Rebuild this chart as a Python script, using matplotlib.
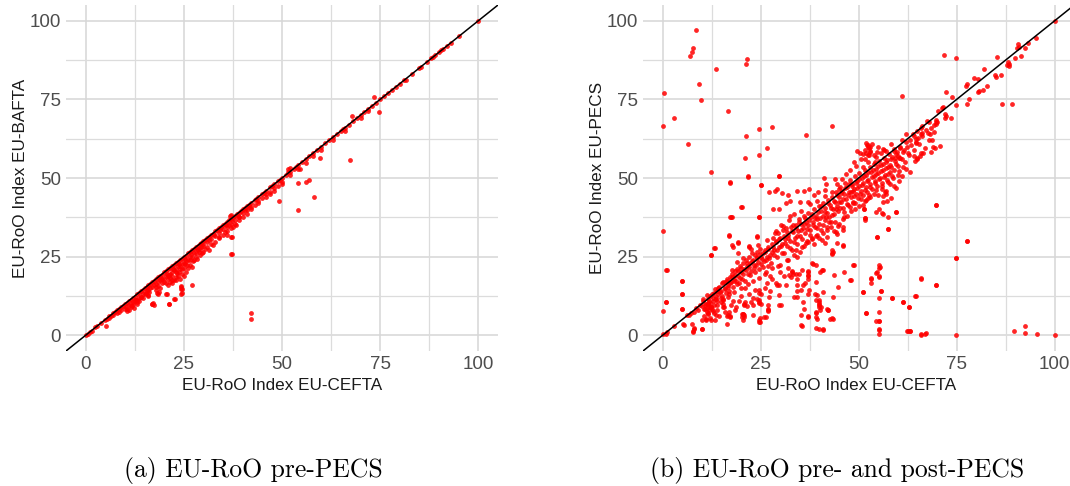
import matplotlib
matplotlib.use('Agg')
import matplotlib.pyplot as plt
import numpy as np

# EU-CEFTA index (x) vs EU-BAFTA index (y), pre-PECS
pre_pecs = [
    (0, 0), (0.5, 0.5), (1, 1), (1.5, 1.2), (2.5, 2.5), (3, 3), (4, 4), (5, 5), (5.5, 5.3),
    (6, 6), (6.5, 6.2), (7, 7), (7.5, 7.3), (8, 8), (8.5, 8.2), (9, 9), (9.5, 9.3), (10, 10),
    (10.5, 10.4), (11, 11), (11.5, 11.3), (12, 12), (12.5, 12.3), (13, 13), (13.5, 13.4),
    (14, 14), (14.5, 14.3), (15, 15), (15.5, 15.4), (16, 16), (16.5, 16.3), (17, 17),
    (17.5, 17.3), (18, 18), (18.5, 18.4), (19, 19), (19.5, 19.3), (20, 20), (20.5, 20.4),
    (21, 21), (21.5, 21.3), (22, 22), (22.5, 22.4), (23, 23), (23.5, 23.2), (24, 24),
    (24.5, 24.4), (25, 25), (25.5, 25.3), (26, 26), (26.5, 26.4), (27, 27), (27.5, 27.3),
    (28, 28), (28.5, 28.3), (29, 29), (29.5, 29.4), (30, 30), (30.5, 30.3), (31, 31),
    (31.5, 31.4), (32, 32), (32.5, 32.3), (33, 33), (33.5, 33.4), (34, 34), (34.5, 34.3),
    (35, 35), (35.5, 35.4), (36, 36), (36.5, 36.7), (37, 37), (37.5, 37.6), (38, 38),
    (38.5, 38.7), (39, 39), (39.5, 39.4), (40, 40), (40.5, 40.6), (41, 41), (41.5, 41.3),
    (42, 42), (43, 43), (43.5, 43.3), (44, 44), (45, 45), (45.5, 45.2), (46, 46), (47, 47),
    (47.5, 47.3), (48, 48), (49, 49), (49.5, 49.4), (50, 50), (51, 51), (51.5, 51.8), (52, 52),
    (53, 53), (53.5, 53.4), (54, 54), (55, 55), (56, 56), (57, 57), (58, 58), (59, 59), (60, 60),
    (61, 61), (62, 62), (63, 63), (64, 64), (65, 65), (65.5, 65.7), (66, 66), (67, 67), (68, 68),
    (69, 69), (70, 70), (71, 71), (72, 72), (73, 73), (74, 74), (75, 75), (76, 76), (77, 77),
    (78, 78), (79, 79), (80, 80), (81, 81), (81.5, 81.3), (83, 83), (85, 85), (85.5, 85.4),
    (87, 87), (88, 88), (88.5, 88.4), (89, 89), (90, 90), (90.5, 90.6), (91, 91), (92, 92),
    (93, 93), (95, 95), (100, 100),
    (67.8, 69.7), (51.5, 53), (52, 53.2), (37, 38.2), (36.8, 37.8),
    (10, 8.5), (11, 9.5), (11.5, 9), (12, 10.5), (12.5, 11), (13, 11.2), (13.5, 12), (14, 12.2),
    (14.5, 13), (15, 13.2), (15.5, 14), (16, 14.5), (16.5, 15), (17, 15.5), (17.5, 16),
    (18, 16.2), (18.5, 17), (19, 17.5), (19.5, 18), (20, 18), (20.5, 18.8), (21, 19),
    (21.5, 19.5), (22, 20), (22.5, 20.8), (23, 21), (23.5, 22), (24, 22), (24.5, 22.8),
    (25, 23), (25.5, 23.5), (26, 24), (26.5, 24.8), (27, 25), (27.5, 26), (28, 26.2), (28.5, 27),
    (29, 27.3), (29.5, 28), (30, 28.5), (31, 29.5), (32, 30.5), (33, 31.5), (34, 32.5),
    (35, 33.8), (36, 34.5), (37, 35.5), (38, 36.8), (39, 37.5), (40, 38.8), (41, 39.8),
    (42, 40.8), (44, 42.8), (46, 44.8), (47, 45.5), (48, 46.8), (50, 48.8), (52, 50.8),
    (54, 52.8), (56, 54.8), (58, 57), (60, 59), (63, 62), (66, 65), (70, 69), (72, 71.2),
    (10.2, 9), (10.6, 8.5), (11.9, 9.2), (12.3, 8.8), (11.5, 9.6), (12.7, 11.1), (14, 12.2),
    (15.3, 13.3), (16.1, 13.8), (15.7, 15.2), (17.8, 15.4), (18.4, 15.6), (18.2, 13.3),
    (18.7, 13.8), (17, 10.1), (17.4, 9.6), (20.4, 13.1), (21.2, 9.9), (22.7, 11.4),
    (24.4, 15.4), (24.6, 14.6), (24.6, 13.3), (27, 16.1), (22.1, 17.5), (21.2, 19.1),
    (22.9, 18.6), (23.7, 20.2), (24.6, 21.2), (25.4, 22.8), (26.7, 23.9), (27.1, 21.6),
    (28.4, 24.4), (28.8, 26.5), (31.4, 27.1), (33.9, 31.3), (36.5, 35), (37.1, 31.3),
    (37.1, 25.8), (39, 37.7), (40.7, 39.8), (41.6, 40.9), (42.2, 7.2), (42.2, 5.1),
    (20, 17), (20.5, 16.5), (21, 18), (21.5, 17), (22, 19), (22.5, 17.5), (23, 20), (23.5, 19),
    (24, 21), (24.5, 19.5), (25, 21.5), (25.5, 20), (21, 16), (22, 16.5), (23, 17.5), (24, 18),
    (25, 19), (26, 21.5), (26.5, 22.5), (27.5, 24), (28, 25), (29, 25.5), (30, 26.5),
    (30.5, 27.5), (31, 28), (32, 29), (33, 29.5), (34, 31), (35, 32), (36, 33), (36, 32),
    (37, 34), (37.5, 34.5), (38, 35.5), (39, 36.5), (40, 37.5), (41, 38.5), (42, 40),
    (43, 41.5), (44, 42), (45, 43.5), (46, 44), (47, 44.8), (48, 46), (49, 47.5), (50, 48),
    (12, 10), (13, 10.5), (13.5, 11), (14.5, 12), (11, 8), (10.5, 7.8), (8, 7), (9, 8),
    (8.5, 7.5), (7, 6.5), (6, 5.5), (16, 12.5), (19, 15), (19.5, 16.5), (18, 14.5),
    (5.3, 2.9), (17.1, 10.3), (37.2, 31.1), (49.3, 42.7), (54.2, 39.9), (58.1, 43.9),
    (57, 49.3), (56.2, 48.6), (54.2, 48.3), (54.7, 52.9), (59.8, 56.3), (67.3, 55.7),
    (74.6, 71.0), (73.4, 75.9), (24.4, 15.6), (24.4, 14.7), (24.4, 13), (22.6, 11.4),
    (21.3, 9.9), (20.7, 13), (18.4, 13), (16.8, 9.8), (37.2, 25.8),
    (19.3, 17.9), (20.8, 19.4), (22.3, 21.1), (23.8, 22.6), (25.3, 24.2), (26.8, 25.9),
    (28.3, 27.4), (29.8, 28.9), (31.3, 30.2), (32.8, 31.9), (34.3, 33.4), (35.8, 34.9),
    (37.3, 36.4), (38.8, 37.9), (21.4, 18.3), (23.2, 19.9), (25.8, 22.4), (27.3, 23.6),
    (29.6, 26.1), (32.4, 28.7), (35.6, 32.8), (38.3, 35.2), (13.2, 10.1), (15.8, 12.9),
]

# EU-CEFTA index (x) vs EU-PECS index (y), pre- and post-PECS
post_pecs = [
    (8.4, 96.9), (7.7, 91.2), (7.4, 90), (7.1, 88.7), (21.6, 87.8), (21.3, 86.3), (13.6, 84.7),
    (9.2, 79.9), (0.3, 76.9), (9.9, 74.9), (16.7, 71.3), (2.8, 69.1), (0, 66.6), (27.9, 66.3),
    (24.7, 65.6), (43.3, 66.5), (6.5, 60.7), (21.3, 63.2), (36.5, 63.7), (26.5, 59.5),
    (24.7, 57.4), (21.1, 56.4), (12.3, 51.9), (21.9, 50.4), (29.7, 50.6), (17.3, 48.5),
    (25.1, 47.7), (0.1, 33.3), (1, 20.9), (0.9, 10.7), (0, 7.7), (5, 17.3), (4.9, 13),
    (5, 8.5), (5.3, 3.7), (0, 0.3), (1, 1), (8.1, 2.1), (7.7, 1.1), (10.1, 2.1), (12.4, 4.9),
    (12.4, 25.5), (13.3, 27.9), (17, 31.7), (17.3, 37.6), (17.6, 37.7), (20.1, 40.7),
    (17.9, 28.1), (19.2, 29.4), (22.1, 28.1),
    (71.8, 89), (74.7, 88), (85.3, 88.4), (86.5, 73.5), (69.8, 41.3), (77.6, 30), (74.8, 24.6),
    (69.6, 15.9), (65.9, 18.2), (58.6, 11.7), (61.4, 10.5), (62.8, 9), (64.4, 12.4),
    (62.5, 1.2), (63.2, 1.2), (65.9, 0.4), (67.1, 0.6), (74.8, 0), (89.5, 1.3), (92.3, 2.9),
    (92.3, 0.7), (95.4, 0.4), (100, 0),
    (55.3, 22.3), (55.3, 21.3), (55.3, 18.6), (55.3, 11.7), (55.3, 7.4), (55.3, 4.5),
    (55.3, 1.6), (55.3, 0.5), (54.5, 19.8), (53.1, 18.3), (53.1, 16.7), (55.8, 14.2),
    (51.8, 7.1), (51.1, 13.6), (54.3, 4.5), (54.7, 31.1), (57.5, 33.9), (56, 38.9),
    (59.6, 39.2), (51.6, 37.3), (51.4, 40.2), (48, 17.7), (48.8, 22.2), (45.9, 33.4),
    (45.9, 28.3), (44.8, 15.4), (43.4, 12.2), (43.7, 19.3), (43.2, 27.1), (43.2, 26),
    (43.3, 5.4), (41.9, 8.2), (42.3, 7.9), (40.9, 2), (39.2, 2.4), (40, 11.1), (40, 10.1),
    (40, 9), (40.1, 7.9), (39.2, 7.1), (39.2, 5.8), (35.6, 2.9), (37.1, 6), (35.9, 10.7),
    (37.1, 13.2), (38.9, 13.2), (38.1, 23), (40.6, 20.9), (37.1, 20.5), (37.1, 19),
    (34.2, 15.9), (34.2, 12.2), (33, 20.5), (33.2, 19.6), (35.6, 20.9), (34.2, 24.9),
    (29.8, 15.9), (29.8, 12.7), (29.8, 9.5), (30.3, 9.6), (27, 9.5), (26.8, 8), (24.7, 10.7),
    (24.7, 10.3), (24.5, 4.8), (24.7, 4.2), (25.9, 5.8), (24.6, 37.6), (24.1, 31.5),
    (20.7, 9.8), (20.5, 6.7), (20.8, 5.9), (20.6, 4.8), (20.2, 6.9), (18.6, 8.9), (16.3, 6.2),
    (17.3, 6.1), (17.3, 5.8), (16.3, 3.7), (13.7, 6.3), (11.1, 5.2), (11.6, 6.9), (7.6, 3.7),
    (100, 100), (95.3, 94.4), (93.2, 92.9), (90.6, 92.6), (90.8, 91.8), (90.3, 91.3),
    (92.3, 91.3), (91.3, 88.9), (90, 88.3), (88.1, 87), (88.3, 86.2), (87.8, 85.8), (88.4, 85.5),
    (84.7, 82.6), (84.9, 82), (86.2, 82.8), (81.9, 84.6), (79.3, 81.7), (80.4, 81.4),
    (77.6, 79.8), (77.5, 79.1), (82.8, 79.3), (81.6, 78.1), (80.8, 77.8), (80.4, 77.3),
    (89, 73.6), (78.2, 75.1), (77.6, 73.5), (73.9, 75.6), (72.2, 77.2), (74.8, 73.2),
    (61.1, 76.2), (71.5, 72.7), (71.3, 72.4), (70.2, 71.3), (71.9, 70.4), (72.4, 69.7),
    (71.9, 69), (73.6, 69.2), (69.6, 68.5), (69.8, 67.7), (69.6, 67.1), (67.9, 67.7),
    (67.5, 68.2), (68.5, 65.8), (66.2, 66.6), (65.8, 66), (69.2, 64.7), (67.7, 64.4),
    (63.9, 63.9), (62.2, 63.9), (61.1, 62.1), (65.1, 62.6), (64.7, 61.6), (66.2, 64.3),
    (68.6, 62.1), (69.4, 59.5), (70.7, 60.2), (68.5, 58.2), (66.4, 58.1), (65.6, 57.1),
    (65, 56.3), (64.3, 55.4), (61.3, 53.6), (60.5, 59.5), (59.9, 58.2), (60.3, 56.3),
    (58.2, 60.7), (59, 59.2), (59.2, 56.3), (58.3, 53.6), (56.5, 58.9), (52.4, 60.5),
    (52.6, 59.5), (52.8, 58.4), (52.4, 57.3), (54.9, 60), (54.5, 56.8), (54.1, 55.2),
    (17.2, 48.6), (21.8, 50.6), (25.1, 47.8), (29.8, 50.6), (27.2, 45.6), (28.7, 45.9),
    (29.2, 46.4), (30.4, 45.3), (31.9, 44.6), (34.3, 45.9), (36, 45.9), (37.4, 46.4),
    (41.1, 49.9), (43.9, 49.7), (41.5, 46.2), (41.7, 48), (39.7, 45.6), (38.7, 44.6),
    (37.2, 42.5), (35.1, 42.5), (32.6, 42.7), (31.5, 41.9), (20.2, 40.7), (28.1, 40),
    (29.8, 40.3), (17.4, 37.7), (24.7, 37.6), (17, 31.8), (24.2, 31.4), (19.3, 29.7),
    (22.1, 28.3), (17.7, 28.7), (13.2, 27.9), (12.3, 25.5), (19.3, 26), (0.8, 20.9),
    (4.9, 17.4), (4.9, 13.1), (0.8, 10.7), (4.9, 8.5), (0.8, 0.5), (3, 3), (5.4, 3.4),
    (7.7, 1.3), (8.1, 2.3), (10, 2.1), (10, 5), (11, 5), (13.4, 5), (6.8, 6.4), (6.2, 6.6),
    (7.2, 7.2), (11.9, 8), (12.8, 7.6), (10.6, 8.5), (12.3, 9), (11.5, 10.1), (11.9, 10.8),
    (14.9, 10.6), (15.3, 10.1), (15.7, 9), (17, 7.4), (16.8, 6.4), (20.4, 6.9), (20.2, 5.8),
    (20.8, 6.4), (23, 6.4), (24.8, 5.6), (24.8, 4.2), (26.4, 5.8), (26.8, 8.5), (27, 7.6),
    (23, 9.6), (22.5, 10.6), (24.7, 11.1), (25.1, 10.1), (20.8, 9.6), (21.5, 9.3),
    (27.2, 12.2), (24.7, 14.3), (24.7, 13.3), (29.3, 15.9),
    (32.3, 19.1), (32.7, 18.6), (34, 19.6), (34.9, 19.6), (37, 20), (37.2, 19.1), (38.3, 22.8),
    (39.1, 22.3), (40.1, 20), (40.8, 20.7), (37, 18), (39.1, 17), (40.8, 13.8), (39.5, 12.7),
    (39.1, 11.1), (40, 10.6), (39.8, 9.6), (40.4, 9), (39.1, 7.4), (39.5, 5.3), (39.8, 2.1),
    (41, 1.6), (42.1, 8), (42.7, 5.3), (43.4, 5.3), (37.4, 14.3), (35.3, 14.3), (35.7, 15.9),
    (33.6, 12.2), (36.4, 16.5), (34.2, 14), (34.4, 18), (35.3, 3.4), (37, 5.8), (35.3, 6.4),
    (36.1, 8.5), (46.3, 20.2), (48.6, 22.3), (47.8, 17.7), (46, 28.7), (45.9, 34.3),
    (43.4, 26.5), (43.2, 25.8), (44.5, 29.2), (44.6, 32.1), (44.2, 32.9), (41.3, 29.2),
    (46.3, 37.6), (48.6, 45.9), (48.6, 41.9),
    (69.8, 41.4), (77.7, 30), (74.8, 24.5), (65.9, 18), (69.6, 16), (64.5, 12.4), (61.4, 10.6),
    (62.9, 9), (58.6, 11.8), (55.4, 21.7), (54.7, 20), (55.3, 18.9), (53.1, 18),
    (55.7, 14.2), (51.1, 13.8), (55.1, 4.6), (55.3, 1.9), (51.8, 7.1), (62.4, 1.3), (63, 1.3),
    (65.9, 0.2), (67, 0.5),
    (54.5, 39.3), (56.1, 38.5), (57.4, 37.5), (59.6, 39.3), (51.7, 37.4), (51.7, 36.8),
    (54.6, 31.1), (57.4, 33.8), (51.4, 40.1), (55.1, 40.3), (52.4, 43.7), (51.7, 42.7),
    (56.2, 42.5), (57.3, 42.7), (58.3, 43.7), (59.6, 46.7), (60.2, 49), (56.6, 45.6),
    (57.1, 44.8), (56.2, 44.4),
    (8, 7.5), (8.5, 8.8), (9, 8), (9.5, 9.5), (10, 9.2), (10.3, 10.8), (10.8, 8.3), (11, 10),
    (11.2, 7.5), (11.5, 11.5), (11.8, 9), (12, 12.5), (12.2, 10.2), (12.5, 8.2), (12.8, 11.8),
    (13, 13.5), (13.2, 9.5), (13.5, 12.2), (13.8, 14.2), (14, 10.8), (14.2, 13), (14.5, 15.5),
    (14.8, 12), (15, 14), (15.2, 16.5), (15.5, 11.5), (15.8, 15), (16, 17), (16.2, 13.5),
    (16.5, 18), (16.8, 16), (17, 14.2), (17.2, 18.5), (17.5, 17), (17.8, 19.5), (18, 15.5),
    (18.2, 18), (18.5, 20.5), (18.8, 17.2), (19, 21), (19.2, 19), (19.5, 16.5), (19.8, 22),
    (20, 20.2), (20.2, 18), (20.5, 23), (20.8, 21), (21, 15), (21.2, 24), (21.5, 22),
    (21.8, 19.5), (22, 25), (22.2, 23), (22.5, 20.5), (22.8, 26), (23, 24), (23.2, 21.5),
    (23.5, 25.5), (23.8, 22.5), (24, 26.5), (24.2, 24.5), (24.5, 21), (24.8, 27.5), (25, 25),
    (25.2, 22.8), (25.5, 26), (25.8, 23.5), (26, 27), (26.3, 20), (26.5, 25), (26.8, 22),
    (27, 28), (27.2, 24.5), (27.5, 19), (27.8, 26.5), (28, 29), (28.2, 31), (28.5, 27),
    (28.8, 33), (29, 30), (29.2, 25), (29.5, 32.5), (29.8, 28), (30, 31), (30.2, 35),
    (30.5, 29), (30.8, 33.5), (31, 26), (31.2, 30.5), (31.5, 34), (31.8, 28.5), (32, 32),
    (32.3, 36.5), (32.5, 30), (32.8, 34.5), (33, 27), (33.2, 32.8), (33.5, 38.5), (33.8, 31),
    (34, 35), (34.2, 29), (34.5, 33), (34.8, 37), (35, 31.5), (35.2, 35.5), (35.5, 28),
    (35.8, 34), (36, 38), (36.2, 32.5), (36.5, 36), (36.8, 30), (37, 35), (37.2, 39),
    (37.5, 33.5), (37.8, 37.5), (38, 31), (38.3, 36), (38.5, 40), (38.8, 34.5), (39, 38),
    (39.3, 32), (39.5, 37), (39.8, 41), (40, 35.5), (40.3, 39.5), (40.5, 33.5), (40.8, 38),
    (41, 42), (41.3, 36.5), (41.5, 40.5), (41.8, 34.5), (42, 39), (42.3, 43), (42.5, 37.5),
    (42.8, 41.5), (43, 36), (43.3, 44), (43.5, 40), (43.8, 38.5), (44, 42.5), (44.3, 45.5),
    (44.5, 41), (44.8, 39.5), (45, 44), (45.3, 47), (45.5, 42.5), (45.8, 46), (46, 40.5),
    (46.2, 44.8), (46.5, 48.5), (46.8, 43.2), (47, 47), (47.2, 41.5), (47.5, 45.5),
    (47.8, 49.5), (48, 44), (48.2, 48), (48.5, 42.5), (48.8, 46.5), (49, 50.5), (49.2, 45),
    (49.5, 49), (49.8, 43.5), (50, 47.5), (50.2, 51.5), (50.5, 46), (50.8, 50), (51, 44.5),
    (51.2, 48.5), (51.5, 52.5), (51.8, 47), (52, 51), (52.2, 45.5), (52.5, 49.5), (52.8, 53.5),
    (53, 48), (53.2, 52), (53.5, 46.5), (53.8, 50.5), (54, 54.5), (54.2, 49), (54.5, 53),
    (54.8, 47.5), (55, 51.5), (55.2, 55.5), (55.5, 50), (55.8, 54), (56, 48.5), (56.2, 52.5),
    (56.5, 56.5), (56.8, 51), (57, 55), (57.2, 49.5), (57.5, 53.5), (57.8, 57.5), (58, 52),
    (58.3, 56), (58.5, 50.5), (59, 58.5), (59.5, 54.5), (60, 57), (60.5, 60), (61, 56),
    (61.5, 59), (62, 61.5), (62.5, 58), (63, 62), (64, 63.5), (64.5, 61), (65, 65), (66, 64),
    (51.8, 61), (52.2, 60.5), (52.5, 60), (51.5, 59), (52, 58), (52.6, 57.2), (51.7, 56),
    (52.3, 55), (53, 58.5), (53.5, 60.8), (52.8, 59.8), (51.2, 57.5),
    (30, 22.5), (32, 24), (34, 27), (36, 28.5), (38, 30.5), (40, 31), (42, 33.5), (44, 36),
    (46, 37), (48, 39.5), (50, 41), (52, 43), (54, 45), (56, 46.5), (58, 48), (60, 51),
    (62, 53), (35, 26.5), (37, 29.5), (39, 31.5), (41, 32.5), (43, 34.5), (45, 35.5), (47, 38),
    (49, 40), (51, 41.5), (53, 44), (55, 44.5), (57, 46), (59, 47.5), (61, 50.5), (63, 52),
    (64, 57), (65, 56), (66, 58), (67, 59.5), (68, 62), (69, 60),
    (10.5, 6), (11.5, 7.2), (12, 5.5), (13, 7), (14, 8), (14.5, 6), (15.5, 9), (16, 7.5),
    (17.5, 9.5), (18, 11), (18.5, 8), (19.5, 11), (20, 12.5), (21, 10.5), (22, 13), (23, 12),
    (23.5, 14.5), (24, 11.5), (25, 13), (26, 15), (26.5, 16.5), (27.5, 14), (28, 18),
    (29, 16.5), (30, 20), (31, 19), (31.5, 16), (32, 21.5), (33, 20),
    (10.3, 11.6), (10.9, 9.7), (11.4, 12.9), (11.7, 10.4), (12.6, 13.1), (12.9, 10.9),
    (13.3, 14.6), (13.7, 11.6), (14.1, 15.1), (14.6, 13.8), (15.1, 12.6), (15.4, 16.8),
    (15.9, 14.6), (16.3, 17.4), (16.6, 15.2), (16.9, 13.1), (17.3, 16.7), (17.7, 18.6),
    (18.1, 17.1), (18.4, 19.2), (18.9, 16.4), (19.3, 20.3), (19.7, 18.1), (20.1, 21.4),
    (20.4, 19.6), (20.9, 17.3), (21.3, 20.7), (21.6, 23.1), (22.1, 21.8), (22.4, 19.1),
    (22.9, 23.6), (23.3, 22.4), (23.6, 20.1), (24.1, 24.9), (24.4, 23.2), (24.9, 25.8),
    (25.3, 24.1), (25.6, 21.7), (26.1, 26.4), (26.4, 23.9), (26.9, 27.3), (27.3, 25.6),
    (27.6, 23.1), (28.1, 28.2), (28.4, 25.4), (28.9, 29.6), (29.3, 27.1), (29.6, 30.7),
    (30.1, 28.3), (30.4, 26.2), (30.9, 31.6), (31.3, 29.2), (31.6, 32.7), (32.1, 30.8),
    (32.4, 27.6), (32.9, 33.1), (33.3, 35.2), (33.6, 29.8), (34.1, 34.2), (34.4, 31.7),
    (34.9, 36.1), (35.3, 33.4), (35.6, 30.6), (36.1, 35.3), (36.4, 37.2), (36.9, 33.8),
    (37.3, 36.6), (37.6, 31.9), (38.1, 38.7), (38.4, 35.1), (38.9, 37.2), (39.3, 34.1),
    (39.6, 39.1), (40.1, 37.3), (40.4, 41.1), (40.9, 35.2), (41.3, 39.2), (41.6, 37.6),
    (42.1, 41.9), (42.4, 36.1), (42.9, 40.4), (43.3, 38.2), (43.6, 42.8), (44.1, 40.1),
    (44.4, 44.6), (44.9, 42.3), (45.3, 40.6), (45.6, 45.2), (46.1, 43.4), (46.4, 46.7),
    (46.9, 41.6), (47.3, 44.7), (47.6, 48.1), (48.1, 45.6), (48.4, 47.3), (48.9, 44.2),
    (49.3, 48.3), (49.6, 46.8), (50.1, 49.6), (50.4, 44.9), (50.9, 47.8), (51.3, 50.6),
    (51.6, 46.1), (52.1, 49.2), (52.4, 51.8), (52.9, 47.2), (53.3, 50.3), (53.6, 52.6),
    (54.1, 48.4), (54.4, 51.2), (54.9, 53.8), (55.3, 49.6), (55.6, 52.2), (56.1, 54.4),
    (56.4, 50.2), (56.9, 53.1), (57.3, 55.6), (57.6, 51.4), (58.1, 54.2), (58.4, 56.8),
    (58.9, 52.6), (59.3, 55.3), (59.6, 57.6), (60.1, 53.9), (60.6, 56.4), (61.2, 58.2),
    (61.7, 55.1), (62.3, 59.7), (62.8, 57.3), (63.4, 60.4), (64.1, 58.9), (64.7, 62.3),
    (65.4, 60.7), (66.2, 63.4), (67.1, 65.2), (68.2, 64.1), (69.3, 66.8), (70.1, 67.9),
    (48.7, 55.2), (49.4, 53.7), (50.6, 55.9), (51.1, 53.4), (47.9, 52.6), (46.8, 51.3),
    (45.7, 49.8), (44.6, 48.2), (50.3, 57.8), (49.7, 58.6), (53.9, 57.2), (54.6, 58.4),
    (55.7, 57.9), (56.3, 59.2), (57.1, 58.6), (46.2, 39.1), (47.7, 40.9), (49.1, 42.1),
    (50.7, 43.3), (52.7, 44.6), (54.3, 46.3), (55.9, 47.4), (57.4, 48.7), (58.7, 50.1),
    (60.4, 52.2), (36.6, 29.4), (38.6, 29.1), (40.6, 30.3), (41.9, 31.4), (43.8, 33.2),
    (44.7, 34.6), (33.4, 25.6), (31.7, 23.9), (29.4, 22.1), (27.9, 21.3), (26.2, 19.4),
    (24.6, 18.2), (23.1, 17.1), (21.7, 16.2), (19.9, 14.9), (18.3, 13.8), (16.7, 12.3),
    (15.3, 11.1), (13.8, 9.6), (12.4, 8.9), (11.3, 8.8), (17.6, 20.8), (19.1, 23.3),
    (20.6, 24.6), (22.6, 27.4), (24.3, 28.6), (26.7, 30.2), (28.6, 32.4), (30.6, 34.8),
    (32.6, 37.9), (35.4, 39.6), (37.7, 41.8), (39.4, 42.7), (41.4, 44.3), (43.1, 45.4),
    (45.1, 46.6),
]

ticks = [0, 25, 50, 75, 100]
minor = [12.5, 37.5, 62.5, 87.5]
x_title = 'EU-RoO Index EU-CEFTA'
y_titles = ['EU-RoO Index EU-BAFTA', 'EU-RoO Index EU-PECS']
captions = ['(a) EU-RoO pre-PECS', '(b) EU-RoO pre- and post-PECS']

sans = ['Liberation Sans', 'DejaVu Sans']

fig = plt.figure(figsize=(10.7, 4.86), dpi=100)
ax_a = fig.add_axes([66 / 1070, 1 - 351 / 486, 432 / 1070, 346 / 486])
ax_b = fig.add_axes([643 / 1070, 1 - 351 / 486, 427 / 1070, 346 / 486])


def style_panel(ax, pts, ytitle, xmax):
    xs = np.array([p[0] for p in pts])
    ys = np.array([p[1] for p in pts])
    ax.set_xlim(-5, xmax)
    ax.set_ylim(-5, 105)
    for v in ticks:
        ax.axvline(v, color='#d6d6d6', lw=1.1, zorder=0)
        ax.axhline(v, color='#d6d6d6', lw=1.1, zorder=0)
    for v in minor:
        ax.axvline(v, color='#dcdcdc', lw=0.9, zorder=0)
        ax.axhline(v, color='#dcdcdc', lw=0.9, zorder=0)
    ax.scatter(xs, ys, s=12, color='red', alpha=0.85, linewidths=0, zorder=2)
    ax.axline((0, 0), slope=1, color='black', lw=1.1, zorder=3)
    ax.set_xticks(ticks)
    ax.set_yticks(ticks)
    ax.set_xticklabels([str(t) for t in ticks], family=sans, fontsize=13.5, color='#4d4d4d')
    ax.set_yticklabels([str(t) for t in ticks], family=sans, fontsize=13.5, color='#4d4d4d')
    ax.tick_params(length=0, pad=3.5)
    for s in ax.spines.values():
        s.set_visible(False)
    ax.set_xlabel(x_title, family=sans, fontsize=12.3, color='#1a1a1a', labelpad=4)
    ax.set_ylabel(ytitle, family=sans, fontsize=12.3, color='#1a1a1a', labelpad=1.5)


style_panel(ax_a, pre_pecs, y_titles[0], 105)
style_panel(ax_b, post_pecs, y_titles[1], 103.9)

fig.text(253 / 1070, 1 - 477 / 486, captions[0], family='cmr10', fontsize=18.5,
         ha='center', va='baseline')
fig.text(837 / 1070, 1 - 477 / 486, captions[1], family='cmr10', fontsize=18.5,
         ha='center', va='baseline')

fig.savefig('out.png', dpi=100)
